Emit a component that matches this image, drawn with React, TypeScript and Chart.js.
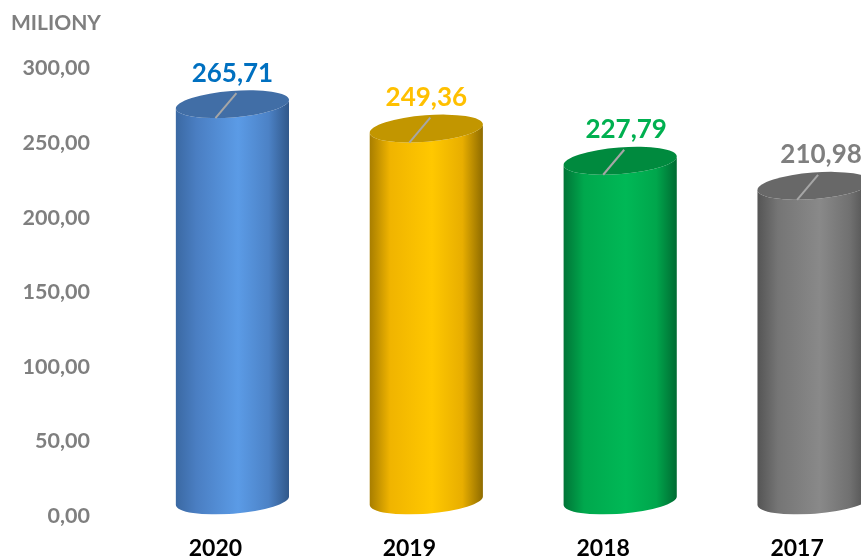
import React, { useEffect, useRef } from "react";
import { Chart, registerables, BarController, BarElement } from "chart.js";

const categories = ["2020", "2019", "2018", "2017"];
const values = [265.71, 249.36, 227.79, 210.98];
const valueLabels = ["265,71", "249,36", "227,79", "210,98"];
const labelShift = [0, 0, 6, 7];
const labelColors = ["#0070C0", "#FFC000", "#00B050", "#7F7F7F"];
const edgeLeft = ["#3B69A3", "#A87E00", "#007537", "#555555"];
const midLeft = ["#4A7EC2", "#F0B400", "#00A84D", "#757575"];
const centre = ["#5B9BE6", "#FFC800", "#00B856", "#898989"];
const midRight = ["#4C82C6", "#E8AE00", "#00A64C", "#707070"];
const edgeRight = ["#31588A", "#8F6C00", "#006B32", "#4A4A4A"];
const topColors = ["#416EA6", "#C29600", "#008A3E", "#686868"];

const TILT = (-4.5 * Math.PI) / 180;

class CylinderElement extends BarElement {
  static id = "cylinder";
  draw(ctx: CanvasRenderingContext2D) {
    const { x, y, base, width } = (this as any).getProps(["x", "y", "base", "width"], true);
    const i = (this as any).$context.dataIndex;
    const half = width / 2;
    const minor = half * 0.235;
    const drop = 14;
    const topY = y - drop;
    const botY = base - drop;
    const grad = ctx.createLinearGradient(x - half, 0, x + half, 0);
    grad.addColorStop(0, edgeLeft[i]);
    grad.addColorStop(0.18, midLeft[i]);
    grad.addColorStop(0.55, centre[i]);
    grad.addColorStop(0.82, midRight[i]);
    grad.addColorStop(1, edgeRight[i]);
    ctx.save();
    ctx.beginPath();
    ctx.ellipse(x, botY, half + 0.3, minor, TILT, 0, Math.PI);
    ctx.ellipse(x, topY, half + 0.3, minor, TILT, Math.PI, 0, true);
    ctx.closePath();
    ctx.fillStyle = grad;
    ctx.fill();
    ctx.beginPath();
    ctx.ellipse(x, topY, half + 0.3, minor, TILT, 0, Math.PI * 2);
    ctx.fillStyle = topColors[i];
    ctx.fill();
    ctx.beginPath();
    ctx.moveTo(x - 17, y);
    ctx.lineTo(x + 4, y - 25);
    ctx.strokeStyle = "#A6A6A6";
    ctx.lineWidth = 2;
    ctx.stroke();
    ctx.restore();
  }
}

class CylinderController extends BarController {
  static id = "cylinder";
  static defaults = { ...BarController.defaults, dataElementType: "cylinder" };
}

Chart.register(...registerables, CylinderElement, CylinderController);

const valueLabelPlugin = {
  id: "valueLabelPlugin",
  afterDatasetsDraw(chart: any) {
    const { ctx } = chart;
    const meta = chart.getDatasetMeta(0);
    ctx.save();
    ctx.textAlign = "center";
    ctx.textBaseline = "middle";
    ctx.font = "bold 26px Lato";
    meta.data.forEach((el: any, i: number) => {
      ctx.fillStyle = labelColors[i];
      ctx.fillText(valueLabels[i], el.x + labelShift[i], el.y - 45);
    });
    ctx.font = "bold 21px Lato";
    ctx.textAlign = "left";
    ctx.fillStyle = "#7F7F7F";
    ctx.fillText("MILIONY", 11, 23);
    ctx.restore();
  },
};

export default function App() {
  const ref = useRef<HTMLCanvasElement>(null);
  useEffect(() => {
    const chart = new Chart(ref.current as HTMLCanvasElement, {
      type: "cylinder" as any,
      data: {
        labels: categories,
        datasets: [
          {
            data: values,
            backgroundColor: centre,
            barPercentage: 1,
            categoryPercentage: 0.5825,
          },
        ],
      },
      options: {
        animation: false,
        responsive: false,
        layout: { padding: { top: 67, right: 19, left: 0, bottom: 0 } },
        plugins: { legend: { display: false }, tooltip: { enabled: false } },
        scales: {
          x: {
            grid: { display: false },
            border: { display: false },
            afterFit: (s: any) => {
              s.height = 50;
            },
            ticks: {
              labelOffset: -17,
              padding: 12,
              color: "#000000",
              font: { family: "Lato", weight: "bold", size: 23 },
            },
          },
          y: {
            min: 0,
            max: 300,
            grid: { display: false },
            border: { display: false },
            afterFit: (s: any) => {
              s.width = 135.5;
            },
            ticks: {
              stepSize: 50,
              padding: 37.5,
              labelOffset: 1.5,
              color: "#7F7F7F",
              font: { family: "Lato", weight: "bold", size: 21.5 },
              callback: (v: any) => Number(v).toFixed(2).replace(".", ","),
            },
          },
        },
      },
      plugins: [valueLabelPlugin],
    } as any);
    return () => chart.destroy();
  }, []);
  return (
    <div style={{ position: "fixed", left: 0, top: 0, width: 861, height: 558, overflow: "hidden", background: "#fff" }}>
      <canvas ref={ref} width={930} height={565} style={{ display: "block" }} />
    </div>
  );
}
